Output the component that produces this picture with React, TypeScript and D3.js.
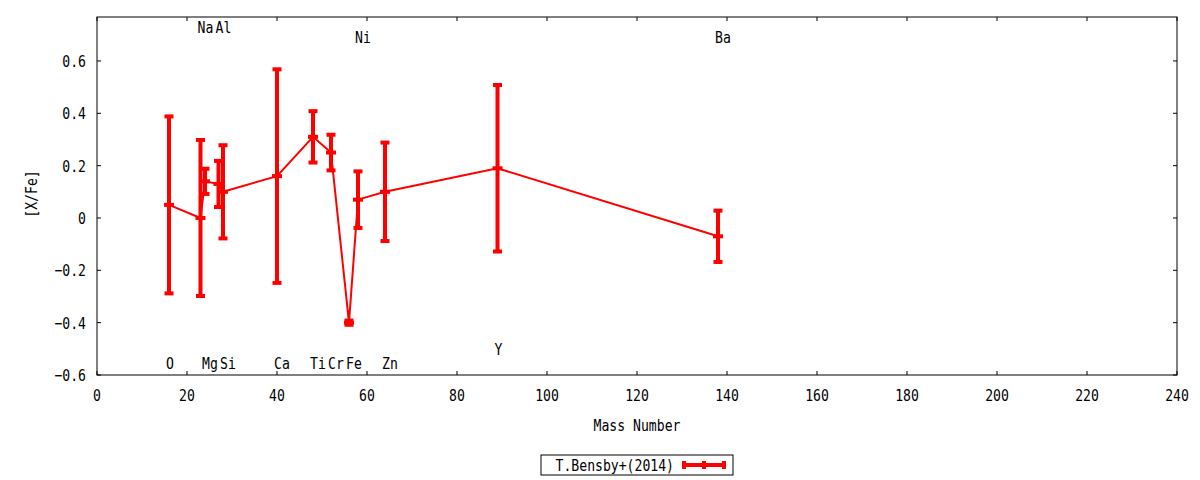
import * as d3 from "d3";
import type { ReactNode } from "react";

const elements = ["O", "Na", "Mg", "Al", "Si", "Ca", "Ti", "Cr", "Fe", "Ni", "Zn", "Y", "Ba"];
const massNumbers = [16, 23, 24, 27, 28, 40, 48, 52, 56, 58, 64, 89, 138];
const abundances = [0.05, 0.0, 0.14, 0.13, 0.1, 0.16, 0.31, 0.25, -0.4, 0.07, 0.1, 0.19, -0.07];
const errors = [0.34, 0.3, 0.05, 0.09, 0.18, 0.41, 0.1, 0.07, 0.01, 0.11, 0.19, 0.32, 0.1];
// vertical position of each element label, in [X/Fe] units
const labelY = [-0.555, 0.73, -0.555, 0.73, -0.555, -0.555, -0.555, -0.555, -0.555, 0.692, -0.555, -0.5, 0.692];

const xTicks = [0, 20, 40, 60, 80, 100, 120, 140, 160, 180, 200, 220, 240];
const yTicks = [-0.6, -0.4, -0.2, 0, 0.2, 0.4, 0.6];

const W = 1200, H = 480;
const m = { left: 97, right: 23, top: 17, bottom: 105 };
const font = "'DejaVu Sans Mono', monospace";
const red = "#ff0000";

const x = d3.scaleLinear().domain([0, 240]).range([m.left, W - m.right]);
const y = d3.scaleLinear().domain([-0.6, 0.768]).range([H - m.bottom, m.top]);

const pts = massNumbers.map((mn, i) => ({
  el: elements[i], mn, v: abundances[i], e: errors[i], ly: labelY[i],
}));

const line = d3.line<{ mn: number; v: number }>().x(d => x(d.mn)).y(d => y(d.v));

const fmtY = (v: number) => (v === 0 ? "0" : d3.format(".1f")(v));

// condensed monospace text (gnuplot-ish look)
const T = ({ x, y, anchor = "start", rot = 0, children }:
  { x: number; y: number; anchor?: string; rot?: number; children: ReactNode }) => (
  <text transform={`translate(${x},${y}) rotate(${rot}) scale(0.82,1)`} textAnchor={anchor}
    dominantBaseline="middle" dy={rot ? 0 : 1.5}>
    {children}
  </text>
);

const ErrorBar = ({ cx, cy, y0, y1 }: { cx: number; cy: number; y0: number; y1: number }) => (
  <g fill={red}>
    <rect x={cx - 2} y={y1} width={4} height={y0 - y1} />
    <rect x={cx - 4.5} y={y1 - 1.5} width={9} height={4} />
    <rect x={cx - 4.5} y={y0 - 2.5} width={9} height={4} />
    <rect x={cx - 5} y={cy - 2} width={10} height={4} />
  </g>
);

export default function App() {
  const x0 = m.left, x1 = W - m.right, yTop = m.top, yBot = H - m.bottom;
  const lg = { x: 541, y: 455, w: 192, h: 20 };
  return (
    <svg width={W} height={H} style={{ position: "absolute", left: 0, top: 0, background: "#fff" }}
      fontFamily={font} fontSize={16}>
      {/* ticks, mirrored on all sides */}
      <g stroke="#000" strokeWidth={1}>
        {xTicks.map(t => (
          <g key={"x" + t}>
            <line x1={x(t)} x2={x(t)} y1={yBot} y2={yBot - 4} />
            <line x1={x(t)} x2={x(t)} y1={yTop} y2={yTop + 4} />
          </g>
        ))}
        {yTicks.map(t => (
          <g key={"y" + t}>
            <line x1={x0} x2={x0 + 4} y1={y(t)} y2={y(t)} />
            <line x1={x1} x2={x1 - 4} y1={y(t)} y2={y(t)} />
          </g>
        ))}
      </g>
      {xTicks.map(t => (
        <T key={"xl" + t} x={x(t)} y={yBot + 20} anchor="middle">{t}</T>
      ))}
      {yTicks.map(t => (
        <T key={"yl" + t} x={x0 - 11} y={y(t)} anchor="end">{fmtY(t)}</T>
      ))}
      <T x={(x0 + x1) / 2} y={425} anchor="middle">Mass Number</T>
      <T x={33} y={(yTop + yBot) / 2 - 2} anchor="middle" rot={-90}>[X/Fe]</T>

      {/* element labels */}
      {pts.map(p => (
        <T key={"el" + p.el} x={x(p.mn) - 3} y={y(p.ly)}>{p.el}</T>
      ))}

      {/* data */}
      <path d={line(pts) ?? ""} fill="none" stroke={red} strokeWidth={2} />
      {pts.map(p => (
        <ErrorBar key={"eb" + p.el} cx={x(p.mn)} cy={y(p.v)} y0={y(p.v - p.e)} y1={y(p.v + p.e)} />
      ))}

      <rect x={x0} y={yTop} width={x1 - x0} height={yBot - yTop} fill="none" stroke="#000" strokeWidth={1} />

      {/* legend */}
      <rect x={lg.x} y={lg.y} width={lg.w} height={lg.h} fill="none" stroke="#000" strokeWidth={1} />
      <T x={674} y={lg.y + lg.h / 2} anchor="end">T.Bensby+(2014)</T>
      <g fill={red}>
        <rect x={682} y={463} width={44} height={4} />
        <rect x={682} y={461} width={4} height={8} />
        <rect x={722} y={461} width={4} height={8} />
        <rect x={702} y={461} width={4} height={8} />
      </g>
    </svg>
  );
}
